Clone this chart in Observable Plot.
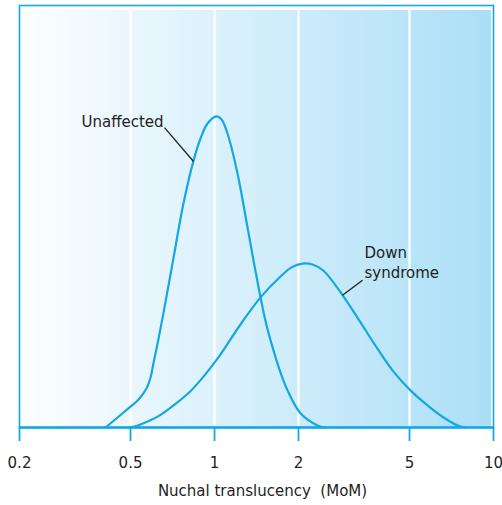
<!DOCTYPE html>
<html><head><meta charset="utf-8">
<script src="https://cdn.jsdelivr.net/npm/d3@7"></script>
<script src="https://cdn.jsdelivr.net/npm/@observablehq/plot@0.6"></script>
<style>body{margin:0;background:#fff}</style>
</head><body><div id="chart"></div>
<script>
// x axis (log scale, MoM)
const xTicks = [0.2, 0.5, 1, 2, 5, 10];
const gridMoM = [0.5, 1, 2, 5];
const xTitle = "Nuchal translucency\u00a0 (MoM)";

// Unaffected distribution (relative density)
const unaffectedMoM = [0.407, 0.472, 0.534, 0.571, 0.590, 0.605, 0.625, 0.657, 0.707, 0.774, 0.841, 0.891, 0.944, 1.017, 1.059, 1.113, 1.209, 1.313, 1.391, 1.462, 1.536, 1.627, 1.724, 1.827, 2.033, 2.34, 2.50];
const unaffectedDensity = [0, 0.036, 0.067, 0.094, 0.120, 0.156, 0.201, 0.276, 0.393, 0.537, 0.640, 0.693, 0.729, 0.746, 0.739, 0.705, 0.609, 0.480, 0.388, 0.312, 0.245, 0.185, 0.132, 0.089, 0.034, 0.005, 0];

// Down syndrome distribution
const downMoM = [0.492, 0.517, 0.543, 0.625, 0.713, 0.820, 0.913, 1.025, 1.239, 1.462, 1.724, 1.888, 2.067, 2.245, 2.459, 2.900, 3.337, 3.838, 4.381, 5.04, 5.80, 6.62, 7.49, 7.94];
const downDensity = [0, 0.002, 0.007, 0.026, 0.053, 0.087, 0.122, 0.165, 0.247, 0.312, 0.362, 0.384, 0.393, 0.391, 0.376, 0.314, 0.252, 0.189, 0.134, 0.089, 0.053, 0.024, 0.004, 0];

// Annotations
const unaffectedLabel = {t: "Unaffected", x: 0.657, y: 0.733};
const downLabel = [{t: "Down", x: 3.449, y: 0.419}, {t: "syndrome", x: 3.449, y: 0.371}];
const leaderFromMoM = [0.662, 3.393];
const leaderFromY = [0.719, 0.353];
const leaderToMoM = [0.841, 2.876];
const leaderToY = [0.638, 0.317];

const blue = "#13a8e4";
const ink = "#231f20";

const unaffected = unaffectedMoM.map((m, i) => ({mom: m, v: unaffectedDensity[i]}));
const down = downMoM.map((m, i) => ({mom: m, v: downDensity[i]}));
const leaders = leaderFromMoM.map((m, i) => ({x1: m, y1: leaderFromY[i], x2: leaderToMoM[i], y2: leaderToY[i]}));
const yMax = 422 / 417;

const plot = Plot.plot({
  width: 502, height: 505,
  marginLeft: 19, marginRight: 9, marginTop: 5, marginBottom: 78,
  style: {fontFamily: "DejaVu Sans", background: "#fff"},
  x: {type: "log", domain: [xTicks[0], xTicks[xTicks.length - 1]]},
  y: {domain: [0, yMax], axis: null},
  marks: [
    Plot.rect([{}], {x1: xTicks[0], x2: xTicks[xTicks.length - 1], y1: 0, y2: yMax, fill: "url(#bgGrad)", insetTop: 5, insetLeft: 1, insetRight: 2}),
    Plot.ruleX(gridMoM, {stroke: "#fff", strokeWidth: 2.2, insetTop: 5}),
    Plot.line(unaffected, {x: "mom", y: "v", curve: "catmull-rom", stroke: blue, strokeWidth: 2.2}),
    Plot.line(down, {x: "mom", y: "v", curve: "catmull-rom", stroke: blue, strokeWidth: 2.2}),
    Plot.link(leaders, {x1: "x1", y1: "y1", x2: "x2", y2: "y2", stroke: ink, strokeWidth: 1.3}),
    Plot.text([unaffectedLabel], {x: "x", y: "y", text: "t", textAnchor: "end", fontSize: 15, fill: ink}),
    Plot.text(downLabel, {x: "x", y: "y", text: "t", textAnchor: "start", fontSize: 15, fill: ink}),
    Plot.frame({stroke: blue, strokeWidth: 1.6}),
    Plot.ruleY([0], {stroke: blue, strokeWidth: 2.4}),
    Plot.axisX({ticks: xTicks, tickFormat: d => `${d}`, tickSize: 14, tickPadding: 16, stroke: blue, strokeWidth: 1.8, fill: ink, fontSize: 15, label: null}),
    Plot.text([xTitle], {frameAnchor: "bottom", dy: 68, dx: 6, fontSize: 15, fill: ink})
  ]
});
plot.insertAdjacentHTML("afterbegin", `<defs><linearGradient id="bgGrad" x1="0" x2="1" y1="0" y2="0"><stop offset="0" stop-color="#fdfeff"/><stop offset="1" stop-color="#abdff7"/></linearGradient></defs>`);
document.getElementById("chart").appendChild(plot);
</script>
</body></html>
